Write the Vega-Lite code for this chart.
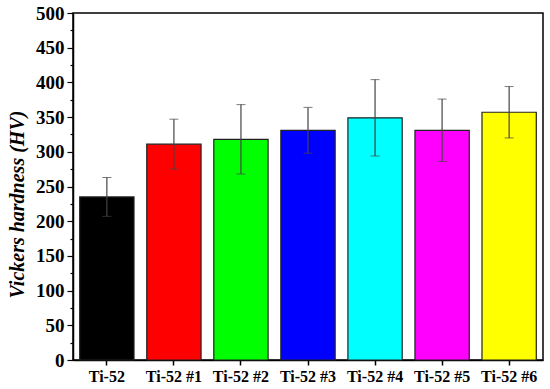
{
  "$schema": "https://vega.github.io/schema/vega-lite/v6.json",
  "width": 470,
  "height": 347,
  "autosize": {"type": "none"},
  "padding": {"left": 73, "top": 13, "right": 7, "bottom": 29},
  "background": "white",
  "view": {"stroke": "black", "strokeWidth": 1.5},
  "data": {"values": [
    {"sample": "Ti-52", "hv": 235, "lo": 207, "hi": 263, "c": "#000000"},
    {"sample": "Ti-52 #1", "hv": 311, "lo": 275, "hi": 347, "c": "#ff0000"},
    {"sample": "Ti-52 #2", "hv": 318, "lo": 268, "hi": 368, "c": "#00ff00"},
    {"sample": "Ti-52 #3", "hv": 331, "lo": 298, "hi": 364, "c": "#0000ff"},
    {"sample": "Ti-52 #4", "hv": 349, "lo": 294, "hi": 404, "c": "#00ffff"},
    {"sample": "Ti-52 #5", "hv": 331, "lo": 286, "hi": 376, "c": "#ff00ff"},
    {"sample": "Ti-52 #6", "hv": 357, "lo": 320, "hi": 394, "c": "#ffff00"}
  ]},
  "encoding": {
    "x": {
      "field": "sample", "type": "nominal", "sort": null,
      "scale": {"paddingInner": 0.19, "paddingOuter": 0.1},
      "axis": {
        "title": null, "labelAngle": 0, "labelFont": "Liberation Serif",
        "labelFontWeight": "bold", "labelFontSize": 16, "labelColor": "black",
        "domainColor": "black", "domainWidth": 1.5, "tickColor": "black",
        "tickWidth": 1.5, "tickSize": 5, "labelPadding": 3
      }
    }
  },
  "resolve": {"axis": {"y": "independent"}},
  "layer": [
    {
      "mark": {"type": "bar", "stroke": "#222222", "strokeWidth": 1.2},
      "encoding": {
        "y": {
          "field": "hv", "type": "quantitative",
          "scale": {"domain": [0, 500], "nice": false},
          "axis": {
            "title": "Vickers hardness (HV)",
            "titleFont": "Liberation Serif", "titleFontSize": 20,
            "titleFontWeight": "bold", "titleFontStyle": "italic",
            "titleColor": "black", "titlePadding": 8, "titleY": 191,
            "values": [0,25,50,75,100,125,150,175,200,225,250,275,300,325,350,375,400,425,450,475,500],
            "labelExpr": "datum.value % 50 === 0 ? datum.label : ''",
            "labelFont": "Liberation Serif", "labelFontWeight": "bold",
            "labelFontSize": 19, "labelColor": "black", "labelPadding": 3,
            "domainColor": "black", "domainWidth": 1.5,
            "tickColor": "black", "tickWidth": 1.2,
            "tickSize": {"condition": {"test": "datum.value % 50 === 0", "value": 6}, "value": 3},
            "grid": false
          }
        },
        "fill": {"field": "c", "type": "nominal", "scale": null, "legend": null}
      }
    },
    {
      "mark": {"type": "errorbar", "ticks": {"size": 9, "color": "#444444", "strokeWidth": 1.2}, "rule": {"color": "#444444", "strokeWidth": 1.2}},
      "encoding": {
        "y": {"field": "lo", "type": "quantitative", "title": null, "axis": null},
        "y2": {"field": "hi"}
      }
    }
  ]
}
